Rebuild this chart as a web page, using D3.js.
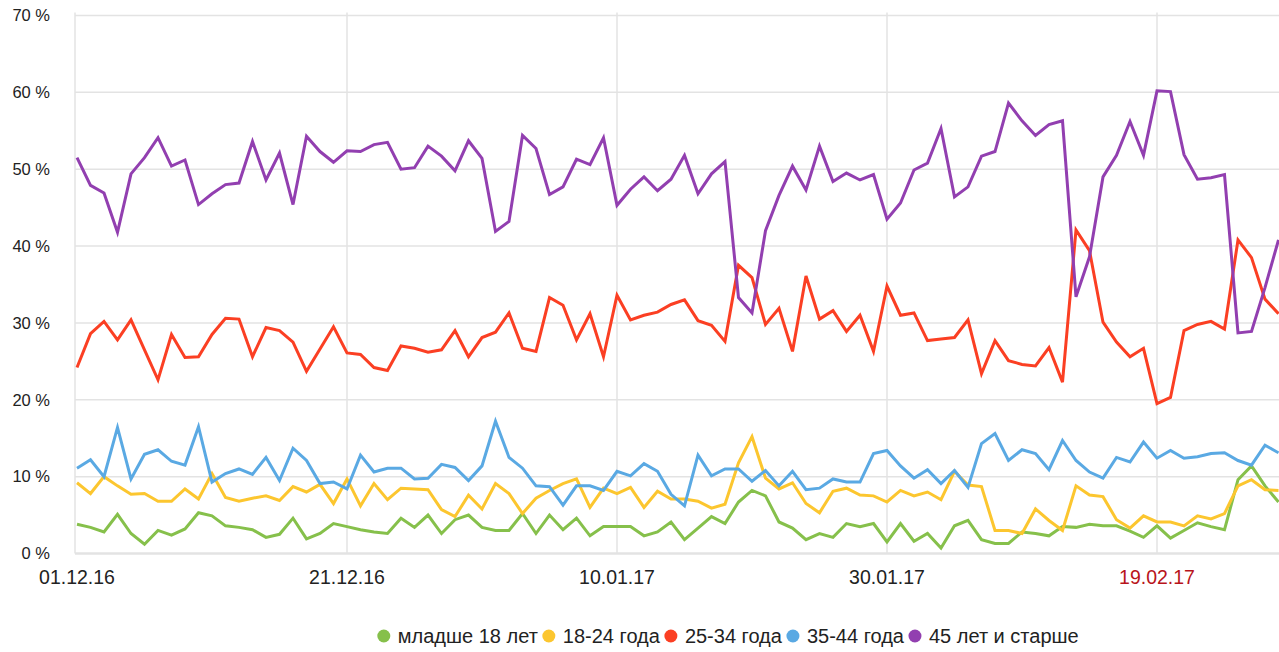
<!DOCTYPE html>
<html>
<head>
<meta charset="utf-8">
<script src="https://cdnjs.cloudflare.com/ajax/libs/d3/7.8.5/d3.min.js"></script>
<style>
	body { margin: 0; background: #fff; }
	svg { display: block; font-family: "Liberation Sans", Arial, sans-serif; }
</style>
</head>
<body>
<svg id="chart" width="1279" height="652"></svg>
<script>
// daily shares, 01.12.16 .. 28.02.17
const startDate = new Date(2016, 11, 1);
const under18 = [3.8,3.4,2.8,5.1,2.6,1.2,3.0,2.4,3.2,5.3, 4.9,3.6,3.4,3.1,2.1,2.5,4.6,1.9,2.6,3.9, 3.5,3.1,2.8,2.6,4.6,3.4,5.0,2.6,4.4,5.0, 3.4,3.0,3.0,5.2,2.6,5.0,3.1,4.6,2.3,3.5, 3.5,3.5,2.3,2.8,4.1,1.8,3.3,4.8,3.9,6.7, 8.2,7.5,4.1,3.3,1.8,2.6,2.1,3.9,3.5,3.9, 1.5,3.9,1.6,2.6,0.7,3.6,4.3,1.8,1.3,1.3, 2.8,2.6,2.3,3.5,3.4,3.8,3.6,3.6,2.9,2.1, 3.6,2.0,3.0,4.0,3.5,3.1,9.6,11.4,8.8,6.7];
const age18_24 = [9.2,7.8,10.0,8.8,7.7,7.8,6.8,6.8,8.4,7.1, 10.4,7.3,6.8,7.2,7.5,6.9,8.7,8.0,9.0,6.5, 9.7,6.2,9.1,7.0,8.5,8.4,8.3,5.7,4.8,7.6, 5.8,9.1,7.8,5.2,7.2,8.2,9.1,9.7,6.0,8.5, 7.8,8.6,6.0,8.1,7.1,7.1,6.8,5.9,6.4,11.8, 15.2,9.8,8.4,9.2,6.5,5.3,8.1,8.5,7.6,7.5, 6.7,8.2,7.5,8.0,7.0,10.7,8.9,8.7,3.0,3.0, 2.6,5.8,4.3,3.0,8.8,7.6,7.4,4.4,3.3,4.9, 4.1,4.1,3.6,4.9,4.5,5.2,8.8,9.6,8.3,8.2];
const age25_34 = [24.2,28.6,30.2,27.8,30.4,26.5,22.6,28.5,25.5,25.6, 28.5,30.6,30.5,25.6,29.4,29.0,27.5,23.7,26.6,29.5, 26.1,25.9,24.2,23.8,27.0,26.7,26.2,26.5,29.0,25.6, 28.1,28.8,31.3,26.7,26.3,33.3,32.3,27.8,31.2,25.6, 33.6,30.4,31.0,31.4,32.4,33.0,30.3,29.7,27.6,37.5, 35.9,29.8,31.9,26.3,36.1,30.5,31.6,28.9,31.0,26.3, 34.8,31.0,31.3,27.7,27.9,28.1,30.4,23.4,27.7,25.1, 24.6,24.4,26.8,22.3,42.1,39.4,30.1,27.5,25.6,26.7, 19.5,20.3,29.0,29.8,30.2,29.2,40.8,38.5,33.1,31.2];
const age35_44 = [11.1,12.2,10.0,16.4,9.7,12.9,13.5,12.0,11.5,16.5, 9.3,10.4,11.0,10.3,12.5,9.5,13.7,12.1,9.1,9.3, 8.4,12.8,10.6,11.1,11.1,9.7,9.8,11.6,11.2,9.5, 11.4,17.2,12.5,11.1,8.8,8.7,6.3,8.8,8.8,8.2, 10.7,10.1,11.7,10.7,7.7,6.2,12.8,10.1,11.0,11.0, 9.4,10.8,8.8,10.7,8.3,8.5,9.7,9.3,9.3,13.0, 13.4,11.4,9.8,10.9,9.1,10.8,8.6,14.3,15.6,12.1, 13.5,13.0,10.9,14.7,12.1,10.6,9.8,12.5,11.9,14.5, 12.4,13.4,12.4,12.6,13.0,13.1,12.1,11.5,14.1,13.1];
const over45 = [51.5,47.9,46.9,41.8,49.4,51.5,54.1,50.4,51.2,45.4, 46.8,48.0,48.2,53.6,48.6,52.1,45.4,54.3,52.3,50.9, 52.4,52.3,53.2,53.5,50.0,50.2,53.0,51.7,49.8,53.7, 51.4,41.9,43.2,54.4,52.7,46.7,47.7,51.3,50.6,54.1, 45.3,47.4,49.0,47.2,48.7,51.8,46.8,49.4,51.0,33.3, 31.3,42.0,46.6,50.4,47.3,53.0,48.4,49.5,48.6,49.3, 43.5,45.6,49.9,50.8,55.3,46.4,47.7,51.7,52.3,58.6, 56.3,54.4,55.8,56.3,33.4,38.6,49.0,51.8,56.2,51.8, 60.2,60.1,51.9,48.7,48.9,49.3,28.7,28.9,34.6,40.8];

const seriesNames = ["младше 18 лет", "18-24 года", "25-34 года", "35-44 года", "45 лет и старше"];
const seriesColors = ["#86c04b", "#fcc62f", "#fb3f23", "#5aa9e3", "#923fb0"];
const yTicks = [0, 10, 20, 30, 40, 50, 60, 70];
const xTickDates = [new Date(2016, 11, 1), new Date(2016, 11, 21), new Date(2017, 0, 10), new Date(2017, 0, 30), new Date(2017, 1, 19)];
const xTickLabels = ["01.12.16", "21.12.16", "10.01.17", "30.01.17", "19.02.17"];

const allSeries = [under18, age18_24, age25_34, age35_44, over45];
const dates = under18.map((_, i) => d3.timeDay.offset(startDate, i));

const svg = d3.select("#chart");
const mLeft = 77, mRight = 1278.5, mTop = 15.5, mBottom = 553.5;

const x = d3.scaleTime().domain([dates[0], dates[dates.length - 1]]).range([mLeft, mRight]);
const y = d3.scaleLinear().domain([0, 70]).range([mBottom, mTop]);

// grid
svg.append("g").selectAll("line").data(yTicks).join("line")
	.attr("x1", 75).attr("x2", 1279)
	.attr("y1", d => y(d)).attr("y2", d => y(d))
	.attr("stroke", "#e3e3e3").attr("stroke-width", d => d == 0 ? 2.5 : 1.5);

svg.append("g").selectAll("line").data(xTickDates).join("line")
	.attr("x1", d => x(d) == mLeft ? 75 : x(d)).attr("x2", d => x(d) == mLeft ? 75 : x(d))
	.attr("y1", mTop - 3).attr("y2", mBottom)
	.attr("stroke", "#e3e3e3").attr("stroke-width", 1.5);

// y labels
svg.append("g").selectAll("text").data(yTicks).join("text")
	.attr("x", 50).attr("y", d => y(d)).attr("dy", "0.35em")
	.attr("text-anchor", "end").attr("font-size", 16.5).attr("fill", "#222")
	.text(d => d + " %");

// x labels
svg.append("g").selectAll("text").data(xTickDates).join("text")
	.attr("x", d => x(d)).attr("y", 584)
	.attr("text-anchor", "middle").attr("font-size", 19.5)
	.attr("fill", (d, i) => i == 4 ? "#b8141b" : "#222")
	.text((d, i) => xTickLabels[i]);

// lines
const line = d3.line().x((d, i) => x(dates[i])).y(d => y(d));
svg.append("g").selectAll("path").data(allSeries).join("path")
	.attr("d", d => line(d))
	.attr("fill", "none")
	.attr("stroke", (d, i) => seriesColors[i])
	.attr("stroke-width", 3)
	.attr("stroke-linejoin", "miter");

// legend
const legend = svg.append("g").attr("font-size", 20);
let lx = 0;
const items = legend.selectAll("g").data(seriesNames).join("g");
items.append("circle").attr("r", 6.5).attr("cy", 0).attr("fill", (d, i) => seriesColors[i]);
items.append("text").attr("x", 14).attr("dy", "0.35em").attr("fill", "#222").text(d => d);
items.each(function () {
	d3.select(this).attr("transform", "translate(" + lx + ",0)");
	lx += 14 + this.querySelector("text").getComputedTextLength() + 11;
});
const legendWidth = lx - 11 + 6.5;
legend.attr("transform", "translate(" + (728 - legendWidth / 2 + 6.5) + ",636)");
</script>
</body>
</html>
